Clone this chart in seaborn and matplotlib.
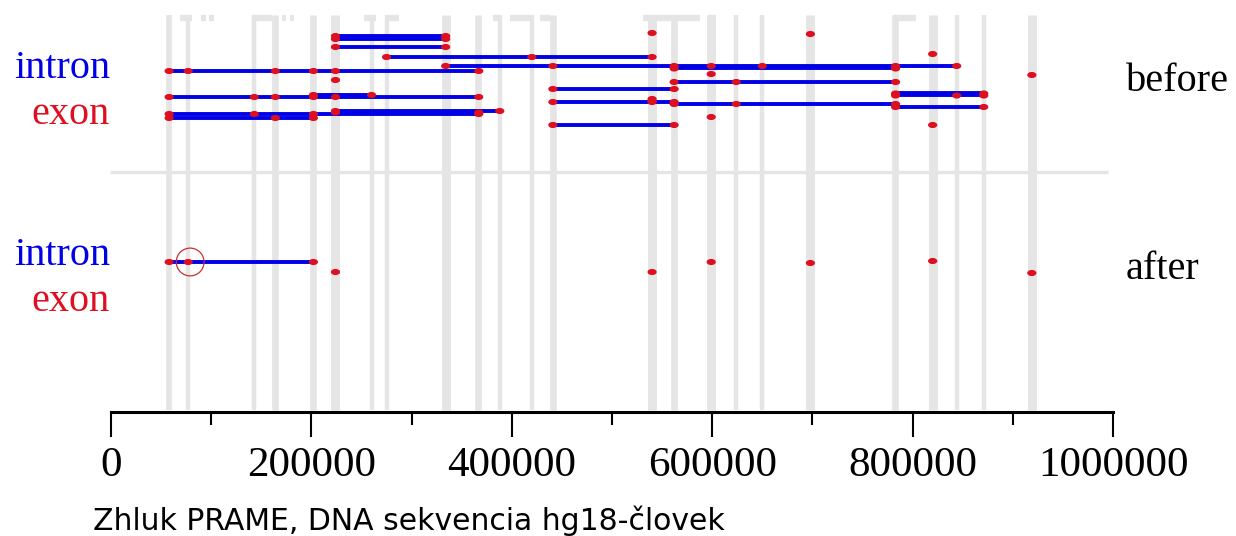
import numpy as np
import pandas as pd
import matplotlib
matplotlib.use("Agg")
import matplotlib.pyplot as plt
from matplotlib.path import Path
import seaborn as sns

# ── Data (genomic positions, bp) ──────────────────────────────────────────────
# grey background columns: exon positions of the cluster and their drawn widths (px)
stripe_pos = [58000, 77000, 143000, 164000, 202000, 224000, 260000, 275000,
              334000, 366000, 388000, 420000, 441000, 540000, 562000, 599000,
              624000, 650000, 698000, 782000, 820000, 844000, 871000, 919000]
stripe_px = [5, 4, 4, 6, 6, 8, 4, 4, 8, 6, 4, 4, 6, 8, 6, 8, 4, 4, 8, 6, 8, 4, 4, 8]

# small grey blocks along the top edge
top_start = [69000, 90000, 98000, 141000, 171000, 179000, 252000, 274000,
             381000, 398000, 428000, 531000, 596000, 780000]
top_end = [81000, 95000, 103000, 161000, 175000, 183000, 264000, 287000,
           388000, 418000, 438000, 588000, 604000, 803000]

# "before": one row per transcript, exons listed left to right
before_y = [33, 34, 36, 39, 47, 54, 57, 66, 68.5, 71, 74, 75, 80, 82, 89, 93.5,
            95.5, 95, 97, 99, 101, 102, 104, 107, 111, 112.5, 114, 117, 118, 125, 125]
before_exons = [
    [540000],
    [698000],
    [224000, 334000],
    [224000, 334000],
    [224000, 334000],
    [820000],
    [275000, 420000, 540000],
    [334000, 441000, 562000, 599000, 650000, 783000, 844000],
    [562000, 783000],
    [58000, 77000, 164000, 202000, 224000, 367000],
    [599000],
    [919000],
    [224000],
    [562000, 624000, 783000],
    [441000, 562000],
    [783000, 871000],
    [783000, 844000, 871000],
    [202000, 260000],
    [58000, 143000, 164000, 202000, 224000, 367000],
    [540000],
    [540000],
    [441000, 540000, 562000],
    [562000, 624000, 783000],
    [783000, 871000],
    [224000, 388000],
    [224000, 367000],
    [58000, 143000, 202000, 367000],
    [599000],
    [58000, 164000, 202000],
    [441000, 562000],
    [820000],
]

# "after"
after_y = [262, 272, 272, 262, 263, 261, 273]
after_exons = [[58000, 77000, 202000], [224000], [540000], [599000],
               [698000], [820000], [919000]]

highlight_pos = [79000]
highlight_y = [262]

major_ticks = [0, 200000, 400000, 600000, 800000, 1000000]
minor_ticks = [100000, 300000, 500000, 700000, 900000]

BLUE = "#0000e6"
RED = "#dc1020"
GREY = "#e5e5e5"

# ── Figure ───────────────────────────────────────────────────────────────────
sns.set_theme(style="white")
plt.rcParams["font.family"] = ["Liberation Serif", "DejaVu Serif"]

W, H = 1236, 536
fig = plt.figure(figsize=(W / 100, H / 100), dpi=100)
ax = fig.add_axes([111 / W, (H - 412) / H, 1002 / W, 412 / H])
ax.set_facecolor("white")

# background columns
for x, w in zip(stripe_pos, stripe_px):
    ax.vlines(x, 15, 410, color=GREY, lw=w * 0.8, zorder=1)
ax.hlines([18] * len(top_start), top_start, top_end, color=GREY, lw=4.5, zorder=1)

# separator between the two panels
ax.hlines(172, -1000, 995000, color=GREY, lw=2.4, zorder=1, clip_on=False)

# introns
rows = list(zip(before_y, before_exons)) + list(zip(after_y, after_exons))
for y, ex in rows:
    if len(ex) > 1:
        ax.hlines(y, min(ex), max(ex), color=BLUE, lw=2.8, zorder=2)

# exons
dots = pd.DataFrame([(x, y) for y, ex in rows for x in ex], columns=["pos", "y"])
t = np.linspace(0, 2 * np.pi, 30)
ellipse = Path(np.column_stack([1.5 * np.cos(t), np.sin(t)]))
sns.scatterplot(data=dots, x="pos", y="y", marker=ellipse, s=44, color=RED,
                edgecolor="none", linewidth=0, ax=ax, legend=False, zorder=3)

# highlighted exon
ax.scatter(highlight_pos, highlight_y, s=400, facecolors="none",
           edgecolors="#c83030", linewidths=0.9, zorder=4)

ax.set_xlim(0, 1000000)
ax.set_ylim(412, 0)
ax.set_xlabel("")
ax.set_ylabel("")
ax.set_yticks([])
for side in ["top", "left", "right"]:
    ax.spines[side].set_visible(False)
ax.spines["bottom"].set_color("black")
ax.spines["bottom"].set_linewidth(2.2)

ax.set_xticks(major_ticks)
ax.set_xticklabels([str(v) for v in major_ticks])
ax.set_xticks(minor_ticks, minor=True)
ax.tick_params(axis="x", which="major", direction="out", length=18, width=1.5,
               color="black", pad=7, labelsize=31, labelcolor="black", bottom=True)
ax.tick_params(axis="x", which="minor", direction="out", length=9, width=1.5,
               color="black", bottom=True)

# side labels
serif = ["Liberation Serif", "DejaVu Serif"]
for base in [78, 265]:
    fig.text(110 / W, 1 - base / H, "intron", color=BLUE, fontsize=29,
             ha="right", va="baseline", family=serif)
    fig.text(110 / W, 1 - (base + 46) / H, "exon", color=RED, fontsize=29,
             ha="right", va="baseline", family=serif)
fig.text(1126 / W, 1 - 91 / H, "before", color="black", fontsize=29,
         ha="left", va="baseline", family=serif)
fig.text(1126 / W, 1 - 279 / H, "after", color="black", fontsize=29,
         ha="left", va="baseline", family=serif)

fig.text(93 / W, 1 - 530 / H, "Zhluk PRAME, DNA sekvencia hg18-človek",
         color="black", fontsize=21.5, ha="left", va="baseline",
         family=["DejaVu Sans"])

fig.savefig("out.png", dpi=100, facecolor="white")
